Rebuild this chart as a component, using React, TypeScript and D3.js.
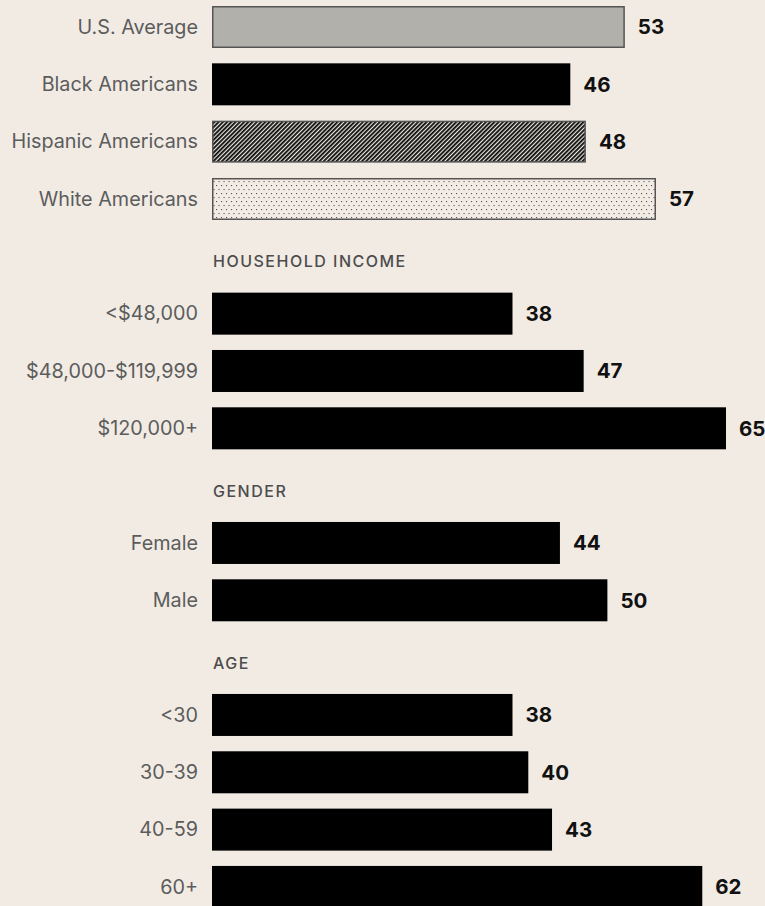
import * as React from "react";
import * as d3 from "d3";

// survey shares by group
const raceLabels = ["U.S. Average", "Black Americans", "Hispanic Americans", "White Americans"];
const raceValues = [53, 46, 48, 57];
const raceFills = ["url(#avgFill)", "#000", "url(#hatchFill)", "url(#dotFill)"];

const incomeLabels = ["<$48,000", "$48,000-$119,999", "$120,000+"];
const incomeValues = [38, 47, 65];

const genderLabels = ["Female", "Male"];
const genderValues = [44, 50];

const ageLabels = ["<30", "30-39", "40-59", "60+"];
const ageValues = [38, 40, 43, 62];

const sectionTitles = ["", "HOUSEHOLD INCOME", "GENDER", "AGE"];

const W = 765, H = 906;
const FONT = "Inter, 'Noto Sans', sans-serif";

export default function App() {
  const sections = [
    {title: sectionTitles[0], labels: raceLabels, values: raceValues, fills: raceFills},
    {title: sectionTitles[1], labels: incomeLabels, values: incomeValues, fills: null},
    {title: sectionTitles[2], labels: genderLabels, values: genderValues, fills: null},
    {title: sectionTitles[3], labels: ageLabels, values: ageValues, fills: null},
  ];

  // flatten into rows (headers take a slot of their own)
  const rows: any[] = [];
  sections.forEach((s, si) => {
    if (s.title) rows.push({key: "h" + si, type: "header", text: s.title});
    s.labels.forEach((l, i) => rows.push({
      key: si + "-" + i, type: "bar", section: si, label: l, value: s.values[i],
      fill: s.fills ? s.fills[i] : "#000"
    }));
  });

  const step = 57.33;
  const y = d3.scaleBand()
    .domain(rows.map(r => r.key))
    .range([6 - step * 0.1337, 6 - step * 0.1337 + rows.length * step])
    .paddingInner(0.2674)
    .paddingOuter(0.1337);

  // the top block is its own panel with a slightly narrower scale
  const xTop = d3.scaleLinear().domain([0, 57]).range([212, 656]);
  const xRest = d3.scaleLinear().domain([0, 65]).range([212, 726]);

  const bh = y.bandwidth();

  return (
    <svg width={W} height={H} style={{position: "absolute", left: 0, top: 0, background: "#f1ebe4"}}>
      <defs>
        <pattern id="avgFill" width="4" height="4" patternUnits="userSpaceOnUse">
          <rect width="4" height="4" fill="#b1b0aa"/>
        </pattern>
        <pattern id="hatchFill" width="3" height="3" patternUnits="userSpaceOnUse" patternTransform="rotate(45)">
          <rect width="3" height="3" fill="#ece8e2"/>
          <rect width="1.8" height="3" fill="#0a0a0a"/>
        </pattern>
        <pattern id="dotFill" width="5" height="8" patternUnits="userSpaceOnUse">
          <rect width="5" height="8" fill="#f1ebe4"/>
          <rect x="1" y="1" width="1.1" height="1.1" fill="#555"/>
          <rect x="3.5" y="5" width="1.1" height="1.1" fill="#555"/>
        </pattern>
      </defs>
      <rect width={W} height={H} fill="#f1ebe4"/>
      {rows.map(r => {
        const y0 = y(r.key) as number;
        const cy = y0 + bh / 2;
        if (r.type === "header") {
          return (
            <text key={r.key} x={213} y={cy + 11} fontFamily={FONT} fontSize={16}
                  fontWeight={500} letterSpacing={1.5} fill="#4d4d4d">{r.text}</text>
          );
        }
        const x = r.section === 0 ? xTop : xRest;
        const stroked = r.section === 0 && r.fill !== "#000";
        const x1 = x(r.value);
        return (
          <g key={r.key}>
            <text x={198} y={cy + 6.8} textAnchor="end" fontFamily={FONT} fontSize={19.8}
                  fill="#5c5c5c">{r.label}</text>
            {stroked
              ? <rect x={x(0) + 0.75} y={y0 + 0.75} width={x1 - x(0) - 1.5} height={bh - 1.5}
                      fill={r.fill} stroke="#555" strokeWidth={1.5}/>
              : <rect x={x(0)} y={y0} width={x1 - x(0)} height={bh} fill={r.fill}/>}
            <text x={x1 + 13} y={cy + 7.5} fontFamily={FONT} fontSize={20.5} fontWeight={700}
                  fill="#111">{r.value}</text>
          </g>
        );
      })}
    </svg>
  );
}
